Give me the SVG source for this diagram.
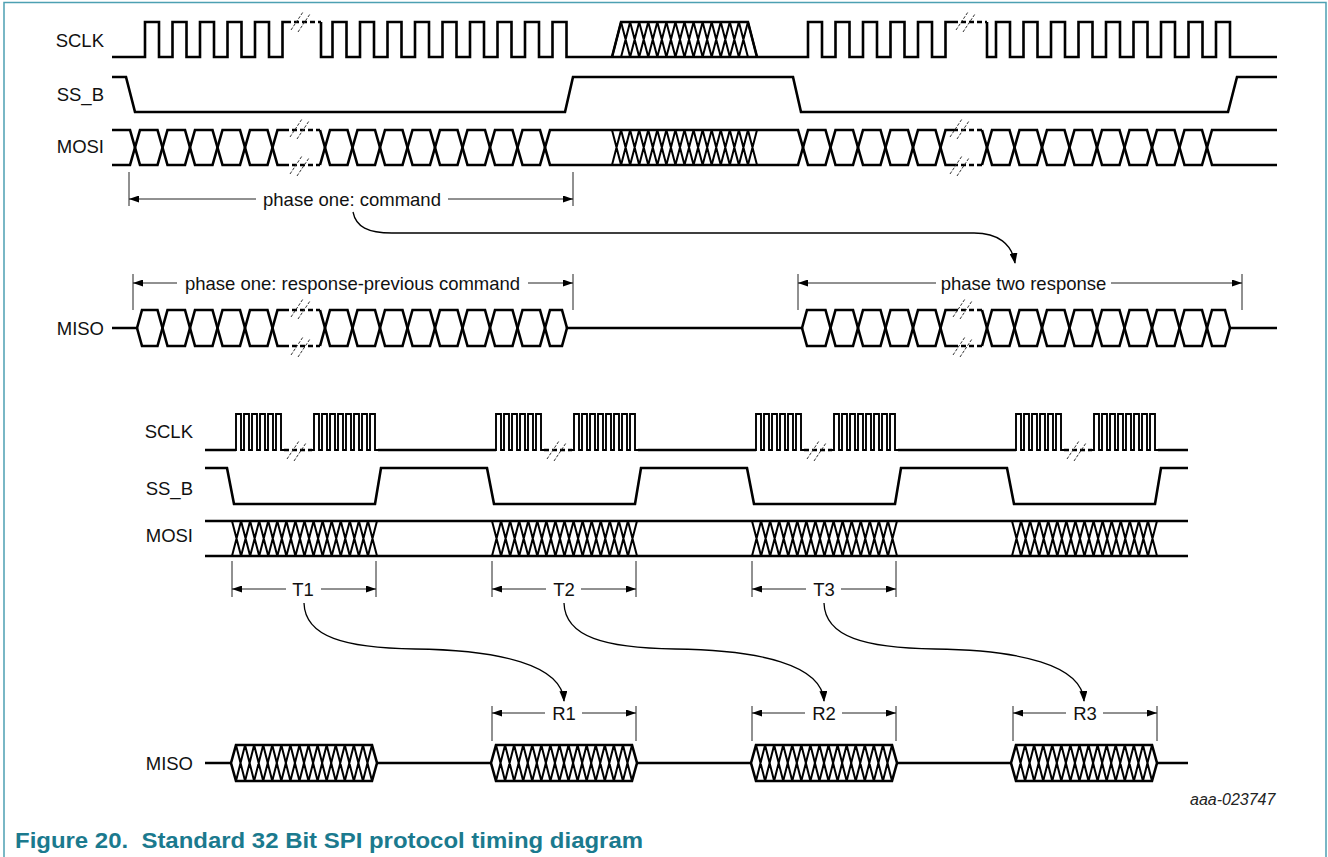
<svg xmlns="http://www.w3.org/2000/svg" xmlns:xlink="http://www.w3.org/1999/xlink" width="1328" height="857" viewBox="0 0 1328 857">
<style>
.w{fill:none;stroke:#000;stroke-width:2.6;stroke-linejoin:miter;stroke-miterlimit:2.5}
.wt{fill:none;stroke:#000;stroke-width:1.9;stroke-linejoin:miter}
.wd{fill:none;stroke:#000;stroke-width:2.4;stroke-dasharray:5 3}
.lat{fill:none;stroke:#000;stroke-width:2;stroke-linejoin:round}
.brk{fill:none;stroke:#333;stroke-width:1;stroke-dasharray:3 1.5}
.dim{fill:none;stroke:#222;stroke-width:1}
.cur{fill:none;stroke:#000;stroke-width:1.3}
.t{font-family:"Liberation Sans",Arial,Helvetica,sans-serif;font-size:18.5px;fill:#111}
.lbl{text-anchor:end}
.mid{text-anchor:middle}
</style>
<defs>
<marker id="ar" viewBox="0 0 10 7" refX="10" refY="3.5" markerWidth="10" markerHeight="7" markerUnits="userSpaceOnUse" orient="auto"><path d="M0,0 L10,3.5 L0,7 Z" fill="#000"/></marker>
<marker id="arc" viewBox="0 0 11 8" refX="10" refY="4" markerWidth="11" markerHeight="8" markerUnits="userSpaceOnUse" orient="auto"><path d="M0,0 L11,4 L0,8 Z" fill="#000"/></marker>
<path id="lat" class="lat" d="M0,0 l9.0625,35 9.0625,-35 9.0625,35 9.0625,-35 9.0625,35 9.0625,-35 9.0625,35 9.0625,-35 9.0625,35 9.0625,-35 9.0625,35 9.0625,-35 9.0625,35 9.0625,-35 9.0625,35 9.0625,-35 M0,35 l9.0625,-35 9.0625,35 9.0625,-35 9.0625,35 9.0625,-35 9.0625,35 9.0625,-35 9.0625,35 9.0625,-35 9.0625,35 9.0625,-35 9.0625,35 9.0625,-35 9.0625,35 9.0625,-35 9.0625,35"/>
<g id="hex">
<path d="M0,18 L5,0 H141 L146,18 L141,36 H5 Z" fill="#fff"/>
<path class="lat" d="M5,0 l9.0667,36 9.0667,-36 9.0667,36 9.0667,-36 9.0667,36 9.0667,-36 9.0667,36 9.0667,-36 9.0667,36 9.0667,-36 9.0667,36 9.0667,-36 9.0667,36 9.0667,-36 9.0667,36 M5,36 l9.0667,-36 9.0667,36 9.0667,-36 9.0667,36 9.0667,-36 9.0667,36 9.0667,-36 9.0667,36 9.0667,-36 9.0667,36 9.0667,-36 9.0667,36 9.0667,-36 9.0667,36 9.0667,-36"/>
<path class="w" d="M0,18 L5,0 H141 L146,18 L141,36 H5 Z"/>
</g>
<path id="brk" class="brk" d="M-10,8 L2,-10 M-3,10 L9,-8"/>
</defs>
<rect width="1328" height="857" fill="#fff"/>
<g id="frame"><path d="M4,870 V2.5 H1326 V870" fill="none" stroke="#4da0b2" stroke-width="1.5"/></g>

<g id="top-sclk">
<text class="t lbl" x="104" y="47">SCLK</text>
<path class="w" d="M112,57 H145 V22 H159 V57 H172.5 V22 H186.5 V57 H200 V22 H214 V57 H227.5 V22 H241.5 V57 H255 V22 H269 V57 H282.5 V22 H286 M321,22 V57 H332.5 V22 H346.5 V57 H360 V22 H374 V57 H387.5 V22 H401.5 V57 H415 V22 H429 V57 H442.5 V22 H456.5 V57 H470 V22 H484 V57 H497.5 V22 H511.5 V57 H525 V22 H539 V57 H552.5 V22 H566.5 V57 H808 V22 H822 V57 H835.5 V22 H849.5 V57 H863 V22 H877 V57 H890.5 V22 H904.5 V57 H918 V22 H932 V57 H945.5 V22 H953 M987,22 V57 H996 V22 H1010 V57 H1023.5 V22 H1037.5 V57 H1051 V22 H1065 V57 H1078.5 V22 H1092.5 V57 H1106 V22 H1120 V57 H1133.5 V22 H1147.5 V57 H1161 V22 H1175 V57 H1188.5 V22 H1202.5 V57 H1216 V22 H1230 V57 H1277"/>
<path class="wd" d="M286,22 H321 M953,22 H987"/>
<path class="lat" d="M612,57 l9.0625,-35 9.0625,35 9.0625,-35 9.0625,35 9.0625,-35 9.0625,35 9.0625,-35 9.0625,35 9.0625,-35 9.0625,35 9.0625,-35 9.0625,35 9.0625,-35 9.0625,35 9.0625,-35 9.0625,35 M621.0625,57 l9.0625,-35 9.0625,35 9.0625,-35 9.0625,35 9.0625,-35 9.0625,35 9.0625,-35 9.0625,35 9.0625,-35 9.0625,35 9.0625,-35 9.0625,35 9.0625,-35 9.0625,35"/>
<path class="w" d="M612,57 L621.06,22 H747.94 L757,57"/>
<use href="#brk" x="301" y="22"/>
<use href="#brk" x="966" y="22"/>
</g>

<g id="top-ssb">
<text class="t lbl" x="104" y="101">SS_B</text>
<path class="w" d="M112,77 H126 L135,112 H565 L573,77 H793 L801,112 H1228 L1237,77 H1277"/>
</g>

<g id="top-mosi">
<text class="t lbl" x="104" y="153">MOSI</text>
<path class="w" d="M112,130 H130 l10,35 h17.5 l10,-35 h17.5 l10,35 h17.5 l10,-35 h17.5 l10,35 h17.5 l10,-35 H284"/>
<path class="w" d="M112,165 H130 l10,-35 h17.5 l10,35 h17.5 l10,-35 h17.5 l10,35 h17.5 l10,-35 h17.5 l10,35 H284"/>
<path class="w" d="M320,130 l10,35 h17.5 l10,-35 h17.5 l10,35 h17.5 l10,-35 h17.5 l10,35 h17.5 l10,-35 h17.5 l10,35 h17.5 l10,-35 h17.5 l10,35 H798 l10,-35 h17.5 l10,35 h17.5 l10,-35 h17.5 l10,35 h17.5 l10,-35 h17.5 l10,35 H953"/>
<path class="w" d="M320,165 l10,-35 h17.5 l10,35 h17.5 l10,-35 h17.5 l10,35 h17.5 l10,-35 h17.5 l10,35 h17.5 l10,-35 h17.5 l10,35 h17.5 l10,-35 H798 l10,35 h17.5 l10,-35 h17.5 l10,35 h17.5 l10,-35 h17.5 l10,35 h17.5 l10,-35 H953"/>
<path class="w" d="M982,130 l10,35 h17.5 l10,-35 h17.5 l10,35 h17.5 l10,-35 h17.5 l10,35 h17.5 l10,-35 h17.5 l10,35 h17.5 l10,-35 h17.5 l10,35 H1277"/>
<path class="w" d="M982,165 l10,-35 h17.5 l10,35 h17.5 l10,-35 h17.5 l10,35 h17.5 l10,-35 h17.5 l10,35 h17.5 l10,-35 h17.5 l10,35 h17.5 l10,-35 H1277"/>
<path class="wd" d="M284,130 H320 M284,165 H320 M953,130 H982 M953,165 H982"/>
<use href="#lat" x="612" y="130"/>
<use href="#brk" x="300" y="129"/>
<use href="#brk" x="300" y="166"/>
<use href="#brk" x="960" y="129"/>
<use href="#brk" x="960" y="166"/>
</g>

<g id="top-miso">
<text class="t lbl" x="104" y="335">MISO</text>
<path class="w" d="M112,328 H137 L142,310 H157.5 l10,36 h17.5 l10,-36 h17.5 l10,36 h17.5 l10,-36 h17.5 l10,36 H284"/>
<path class="w" d="M137,328 L142,346 H157.5 l10,-36 h17.5 l10,36 h17.5 l10,-36 h17.5 l10,36 h17.5 l10,-36 H284"/>
<path class="w" d="M320,310 l10,36 h17.5 l10,-36 h17.5 l10,36 h17.5 l10,-36 h17.5 l10,36 h17.5 l10,-36 h17.5 l10,36 h17.5 l10,-36 h17.5 l10,36 H562 L567,328 H802 L807,310 H825.5 l10,36 h17.5 l10,-36 h17.5 l10,36 h17.5 l10,-36 h17.5 l10,36 H953"/>
<path class="w" d="M320,346 l10,-36 h17.5 l10,36 h17.5 l10,-36 h17.5 l10,36 h17.5 l10,-36 h17.5 l10,36 h17.5 l10,-36 h17.5 l10,36 h17.5 l10,-36 H562 L567,328 M802,328 L807,346 H825.5 l10,-36 h17.5 l10,36 h17.5 l10,-36 h17.5 l10,36 h17.5 l10,-36 H953"/>
<path class="w" d="M982,310 l10,36 h17.5 l10,-36 h17.5 l10,36 h17.5 l10,-36 h17.5 l10,36 h17.5 l10,-36 h17.5 l10,36 h17.5 l10,-36 h17.5 l10,36 H1225 L1230,328 H1277"/>
<path class="w" d="M982,346 l10,-36 h17.5 l10,36 h17.5 l10,-36 h17.5 l10,36 h17.5 l10,-36 h17.5 l10,36 h17.5 l10,-36 h17.5 l10,36 h17.5 l10,-36 H1225 L1230,328"/>
<path class="wd" d="M284,310 H320 M284,346 H320 M953,310 H982 M953,346 H982"/>
<use href="#brk" x="301" y="309"/>
<use href="#brk" x="301" y="347"/>
<use href="#brk" x="963" y="309"/>
<use href="#brk" x="963" y="347"/>
</g>

<g id="bot-sclk">
<text class="t lbl" x="193" y="438">SCLK</text>
<path class="w" d="M205,450 H236 M284,450 M378,450 H496 M638,450 H756 M898,450 H1016 M1158,450 H1188"/>
<path class="wt" d="M234,450 H236 v-36h5v36h3v-36h5v36h3v-36h5v36h3v-36h5v36h3v-36h5v36h3v-36h5v36h3 M312,450 h2 v-36h5v36h3v-36h5v36h3v-36h5v36h3v-36h5v36h3v-36h5v36h3v-36h5v36h3v-36h5v36h3v-36h5v36h3 M494,450 H496 v-36h5v36h3v-36h5v36h3v-36h5v36h3v-36h5v36h3v-36h5v36h3v-36h5v36h3 M572,450 h2 v-36h5v36h3v-36h5v36h3v-36h5v36h3v-36h5v36h3v-36h5v36h3v-36h5v36h3v-36h5v36h3v-36h5v36h3 M754,450 H756 v-36h5v36h3v-36h5v36h3v-36h5v36h3v-36h5v36h3v-36h5v36h3v-36h5v36h3 M832,450 h2 v-36h5v36h3v-36h5v36h3v-36h5v36h3v-36h5v36h3v-36h5v36h3v-36h5v36h3v-36h5v36h3v-36h5v36h3 M1014,450 H1016 v-36h5v36h3v-36h5v36h3v-36h5v36h3v-36h5v36h3v-36h5v36h3v-36h5v36h3 M1092,450 h2 v-36h5v36h3v-36h5v36h3v-36h5v36h3v-36h5v36h3v-36h5v36h3v-36h5v36h3v-36h5v36h3v-36h5v36h3"/>
<path class="wd" d="M284,450 H312 M544,450 H572 M804,450 H832 M1064,450 H1092"/>
<use href="#brk" x="297" y="451"/>
<use href="#brk" x="557" y="451"/>
<use href="#brk" x="817" y="451"/>
<use href="#brk" x="1077" y="451"/>
</g>

<g id="bot-ssb">
<text class="t lbl" x="193" y="495">SS_B</text>
<path class="w" d="M205,468 H227 L234,504 H375 L381,468 H487 L494,504 H635 L641,468 H747 L754,504 H895 L901,468 H1007 L1014,504 H1155 L1161,468 H1188"/>
</g>

<g id="bot-mosi">
<text class="t lbl" x="193" y="542">MOSI</text>
<path class="w" d="M205,521 H1188 M205,556 H1188"/>
<use href="#lat" x="232" y="521"/>
<use href="#lat" x="492" y="521"/>
<use href="#lat" x="752" y="521"/>
<use href="#lat" x="1012" y="521"/>
</g>

<g id="bot-miso">
<text class="t lbl" x="193" y="770">MISO</text>
<path class="w" d="M205,763 H1188"/>
<use href="#hex" x="231" y="745"/>
<use href="#hex" x="491" y="745"/>
<use href="#hex" x="751" y="745"/>
<use href="#hex" x="1011" y="745"/>
</g>

<g id="dim-cmd">
<path class="dim" d="M129,172 V206 M573,172 V206"/>
<line class="dim" x1="256" y1="199" x2="129" y2="199" marker-end="url(#ar)"/>
<line class="dim" x1="448" y1="199" x2="573" y2="199" marker-end="url(#ar)"/>
<text class="t mid" x="352" y="205.5">phase one: command</text>
</g>
<g id="dim-resp-prev">
<path class="dim" d="M133,274 V310 M573,274 V310"/>
<line class="dim" x1="177" y1="283" x2="133" y2="283" marker-end="url(#ar)"/>
<line class="dim" x1="528" y1="283" x2="573" y2="283" marker-end="url(#ar)"/>
<text class="t mid" x="352.5" y="289.5">phase one: response-previous command</text>
</g>
<g id="dim-resp2">
<path class="dim" d="M798,274 V310 M1242,274 V310"/>
<line class="dim" x1="936" y1="283" x2="798" y2="283" marker-end="url(#ar)"/>
<line class="dim" x1="1111" y1="283" x2="1242" y2="283" marker-end="url(#ar)"/>
<text class="t mid" x="1023.5" y="289.5">phase two response</text>
</g>
<g id="dim-T">
<path class="dim" d="M232,561 V597 M376,561 V597 M492,561 V597 M636,561 V597 M752,561 V597 M896,561 V597"/>
<line class="dim" x1="286" y1="589" x2="232" y2="589" marker-end="url(#ar)"/>
<line class="dim" x1="321" y1="589" x2="376" y2="589" marker-end="url(#ar)"/>
<line class="dim" x1="546" y1="589" x2="492" y2="589" marker-end="url(#ar)"/>
<line class="dim" x1="581" y1="589" x2="636" y2="589" marker-end="url(#ar)"/>
<line class="dim" x1="806" y1="589" x2="752" y2="589" marker-end="url(#ar)"/>
<line class="dim" x1="841" y1="589" x2="896" y2="589" marker-end="url(#ar)"/>
<text class="t mid" x="303" y="595.5">T1</text>
<text class="t mid" x="564" y="595.5">T2</text>
<text class="t mid" x="824" y="595.5">T3</text>
</g>
<g id="dim-R">
<path class="dim" d="M492,706 V741 M636,706 V741 M752,706 V741 M896,706 V741 M1013,706 V741 M1157,706 V741"/>
<line class="dim" x1="545" y1="713" x2="492" y2="713" marker-end="url(#ar)"/>
<line class="dim" x1="582" y1="713" x2="636" y2="713" marker-end="url(#ar)"/>
<line class="dim" x1="805" y1="713" x2="752" y2="713" marker-end="url(#ar)"/>
<line class="dim" x1="842" y1="713" x2="896" y2="713" marker-end="url(#ar)"/>
<line class="dim" x1="1066" y1="713" x2="1013" y2="713" marker-end="url(#ar)"/>
<line class="dim" x1="1103" y1="713" x2="1157" y2="713" marker-end="url(#ar)"/>
<text class="t mid" x="564" y="719.5">R1</text>
<text class="t mid" x="824" y="719.5">R2</text>
<text class="t mid" x="1085" y="719.5">R3</text>
</g>

<g id="connectors">
<path class="cur" d="M353,212 C356,227 368,233 392,233 H974 C998,233 1012,244 1015,263" marker-end="url(#arc)"/>
<path class="cur" d="M304,603 C305,637 345,648 415,649 C500,650 562,665 564,701" marker-end="url(#arc)"/>
<path class="cur" d="M564,603 C565,637 605,648 675,649 C760,650 822,665 824,701" marker-end="url(#arc)"/>
<path class="cur" d="M824,603 C825,637 865,648 935,649 C1020,650 1082,665 1084,701" marker-end="url(#arc)"/>
</g>

<g id="caption">
<text x="1190" y="805" font-family="'Liberation Sans',Arial,sans-serif" font-size="16" font-style="italic" fill="#222">aaa-023747</text>
<text x="15" y="848" font-family="'Liberation Sans',Arial,sans-serif" font-size="22" font-weight="bold" fill="#1b7a8e" textLength="628" lengthAdjust="spacingAndGlyphs">Figure 20.&#160; Standard 32 Bit SPI protocol timing diagram</text>
</g>
</svg>
